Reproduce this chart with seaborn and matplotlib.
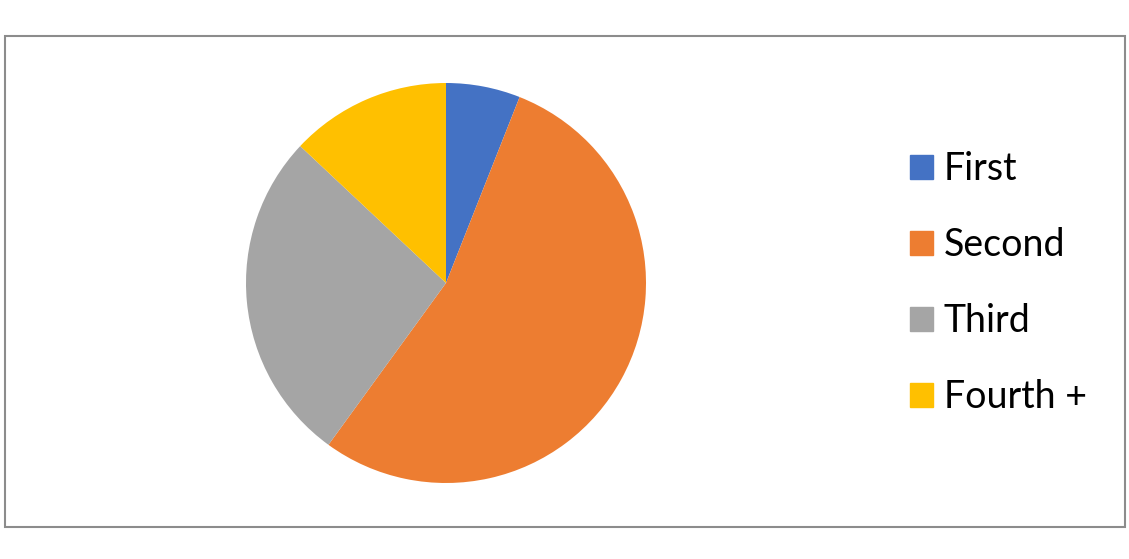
import matplotlib
matplotlib.use("Agg")
import matplotlib.pyplot as plt
import matplotlib.patches as mpatches
import seaborn as sns

# share of each group (percent)
categories = ['First', 'Second', 'Third', 'Fourth +']
shares = [6, 54, 27, 13]
colors = ['#4472C4', '#ED7D31', '#A5A5A5', '#FFC000']

sns.set_theme(style='white')
plt.rcParams['font.family'] = ['Lato', 'DejaVu Sans']

fig = plt.figure(figsize=(11.29, 5.59), dpi=100)
W, H = 1129, 559

# outer chart frame like the Excel chart area
frame = mpatches.Rectangle((5 / W, 1 - 527 / H), 1120 / W, 491 / H,
                           transform=fig.transFigure, fill=False,
                           edgecolor='#8c8c8c', linewidth=1.5)
fig.patches.append(frame)

ax = fig.add_axes([246 / W, 1 - 483 / H, 400 / W, 400 / H])
wedges, _ = ax.pie(shares, colors=sns.color_palette(colors), startangle=90,
                   counterclock=False, wedgeprops=dict(linewidth=0))
ax.set_xlim(-1, 1)
ax.set_ylim(-1, 1)
ax.set_aspect('equal')
ax.axis('off')

handles = [mpatches.Patch(color=c, label=l) for c, l in zip(colors, categories)]
leg = fig.legend(handles=handles, loc='upper left',
                 bbox_to_anchor=(876 / W, 1 - 117 / H), frameon=False,
                 fontsize=27, handlelength=0.61, handleheight=0.61,
                 handletextpad=0.3, labelspacing=1.07, labelcolor='black')

fig.savefig('out.png', dpi=100)
